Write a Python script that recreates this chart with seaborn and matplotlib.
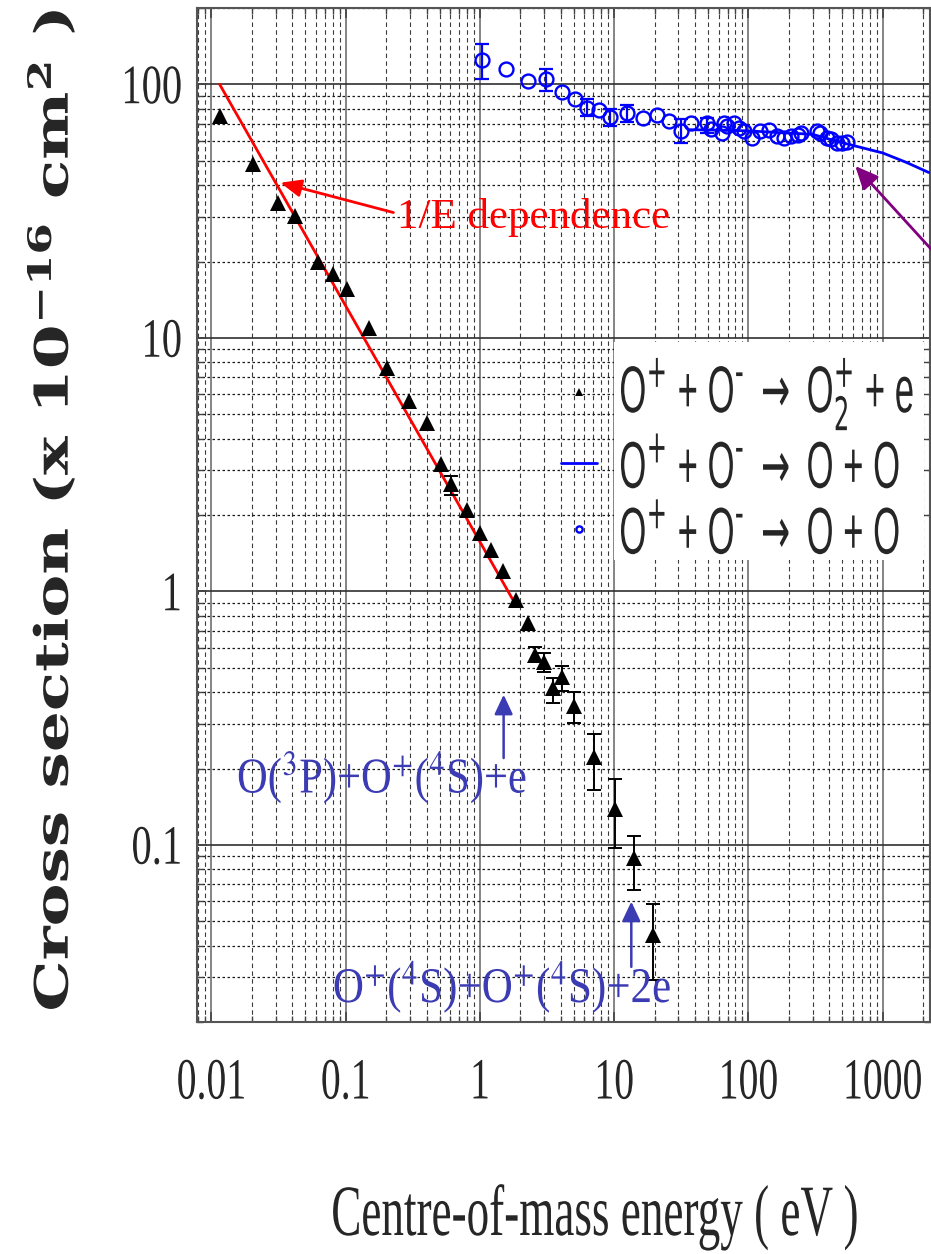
import numpy as np
import pandas as pd
import matplotlib
matplotlib.use("Agg")
import matplotlib.pyplot as plt
import seaborn as sns
from matplotlib.patheffects import AbstractPathEffect
from matplotlib.transforms import Affine2D
from matplotlib.patches import Rectangle
from matplotlib.ticker import NullFormatter, FixedLocator, LogLocator
from matplotlib.mathtext import MathTextParser

# ---------------- data ----------------
# O+ + O-  ->  O2+ + e   (black triangles)
tri_energy = [0.0115, 0.0203, 0.0313, 0.0417, 0.0617, 0.0798, 0.102, 0.150,
              0.202, 0.296, 0.400, 0.511, 0.604, 0.807, 1.00, 1.20, 1.49,
              1.85, 2.29, 2.57, 2.98, 3.48, 4.05, 4.98, 7.01, 10.1, 14.06, 19.45]
tri_sigma = [75.0, 48.3, 34.1, 30.2, 20.0, 17.9, 15.6, 10.95,
             7.61, 5.62, 4.62, 3.19, 2.66, 2.09, 1.70, 1.46, 1.20,
             0.927, 0.75, 0.562, 0.528, 0.415, 0.461, 0.354, 0.222, 0.139, 0.0885, 0.0441]
tri_err_idx = [12, 19, 20, 21, 22, 23, 24, 25, 26, 27]
tri_err_low = [2.40, 0.528, 0.479, 0.362, 0.403, 0.302, 0.165, 0.097, 0.0664, 0.0293]
tri_err_high = [2.84, 0.602, 0.571, 0.455, 0.506, 0.399, 0.274, 0.182, 0.1088, 0.0585]

# O+ + O-  ->  O + O   (open blue circles, measured)
circ_energy = [1.03, 1.55, 2.27, 3.10, 4.05, 5.12, 6.32, 7.72, 9.32, 12.5, 16.5,
               20.7, 25.6, 31.2, 37.1, 49.3, 52.2, 63.7, 65.5, 69.4, 77.8, 84.7,
               92.3, 106.4, 122.8, 143.3, 163, 185, 208, 234, 246, 323, 343, 384,
               411, 455, 496, 540]
circ_sigma = [124.7, 114.6, 103.0, 105.3, 93.6, 87.8, 80.9, 79.1, 74.6, 77.3, 73.4,
              75.5, 71.6, 65.4, 70.2, 70.6, 66.4, 64.4, 70.6, 68.4, 70.6, 67.5,
              65.4, 61.6, 65.4, 66.0, 62.5, 61.6, 62.5, 62.9, 64.4, 65.4, 64.4, 61.6,
              60.7, 58.9, 58.5, 59.3]
circ_err_idx = [0, 3, 6, 8, 9, 13, 15]
circ_err_low = [104.6, 94.1, 75.0, 68.5, 71.0, 58.6, 64.4]
circ_err_high = [143.8, 115.3, 87.3, 79.7, 82.6, 72.7, 73.9]

# O+ + O-  ->  O + O   (blue curve)
curve_energy = [36, 60, 100, 200, 300, 450, 624, 1000, 1500, 2200]
curve_sigma = [66.2, 66.0, 65.5, 64.2, 63.5, 59.7, 57.1, 53.6, 49.2, 44.9]

# 1/E dependence (red line)
fit_energy = [0.0115, 1.75]
fit_sigma = [100.0, 0.93]

x_ticks = [0.01, 0.1, 1, 10, 100, 1000]
x_tick_labels = ["0.01", "0.1", "1", "10", "100", "1000"]
y_ticks = [0.1, 1, 10, 100]
y_tick_labels = ["0.1", "1", "10", "100"]

# superscript minus drawn as a short dash when mathtext supports \text
try:
    MathTextParser("path").parse(r"$^{\text{-}}$")
    SUP_MINUS = r"$^{\text{-}}$"
except Exception:
    SUP_MINUS = r"$^{-}$"

legend_labels = ["O$^{+}$ + O" + SUP_MINUS + r" $\rightarrow$ O$_{2}^{+}$ + e",
                 "O$^{+}$ + O" + SUP_MINUS + r" $\rightarrow$ O + O",
                 "O$^{+}$ + O" + SUP_MINUS + r" $\rightarrow$ O + O"]


# ---------- helper: tall (condensed-looking) text rendering ----------
class Stretch(AbstractPathEffect):
    """Scale glyph outlines perpendicular to the reading direction."""

    def __init__(self, sy, anchor="center"):
        super().__init__()
        self.sy = sy
        self.anchor = anchor

    def draw_path(self, renderer, gc, tpath, affine, rgbFace=None):
        ext = tpath.get_extents()
        if self.anchor == "baseline":
            cy = 0.0
        elif self.anchor == "top":
            cy = ext.y1
        else:
            cy = 0.5 * (ext.y0 + ext.y1)
        t = Affine2D().translate(0, -cy).scale(1.0, self.sy).translate(0, cy)
        renderer.draw_path(gc, tpath, t + affine, rgbFace)


sns.set_style("ticks")
plt.rcParams["font.family"] = ["Liberation Serif", "DejaVu Serif"]

W, H = 931, 1254
fig = plt.figure(figsize=(W / 100, H / 100), dpi=100)
L, R, T, B = 197, 929.5, 8, 1022
ax = fig.add_axes([L / W, 1 - B / H, (R - L) / W, (B - T) / H])
ax.set_xscale("log")
ax.set_yscale("log")
ax.set_axisbelow(True)

# ---------------- marks ----------------
tri_df = pd.DataFrame({"energy": tri_energy, "sigma": tri_sigma})
circ_df = pd.DataFrame({"energy": circ_energy, "sigma": circ_sigma})
curve_df = pd.DataFrame({"energy": curve_energy, "sigma": curve_sigma})
fit_df = pd.DataFrame({"energy": fit_energy, "sigma": fit_sigma})

sns.lineplot(data=fit_df, x="energy", y="sigma", color="#ff0000", lw=2.0,
             estimator=None, sort=False, ax=ax, zorder=3)

te = np.array(tri_energy)[tri_err_idx]
ts = np.array(tri_sigma)[tri_err_idx]
ax.errorbar(te, ts, yerr=[ts - np.array(tri_err_low), np.array(tri_err_high) - ts],
            fmt="none", ecolor="black", elinewidth=1.4, capsize=5, capthick=1.4, zorder=3)
sns.lineplot(data=tri_df, x="energy", y="sigma", marker="^", linestyle="",
             color="black", markersize=12, markeredgewidth=0, estimator=None,
             sort=False, ax=ax, zorder=4, label=legend_labels[0])

sns.lineplot(data=curve_df, x="energy", y="sigma", color="#0000ff", lw=2.0,
             estimator=None, sort=False, ax=ax, zorder=3, label=legend_labels[1])

ce = np.array(circ_energy)[circ_err_idx]
cs = np.array(circ_sigma)[circ_err_idx]
ax.errorbar(ce, cs, yerr=[cs - np.array(circ_err_low), np.array(circ_err_high) - cs],
            fmt="none", ecolor="#0000ff", elinewidth=1.6, capsize=5, capthick=1.6, zorder=3)
sns.lineplot(data=circ_df, x="energy", y="sigma", marker="o", linestyle="",
             color="#0000ff", markerfacecolor="none", markeredgecolor="#0000ff",
             markersize=10, markeredgewidth=1.7, estimator=None, sort=False,
             ax=ax, zorder=4, label=legend_labels[2])

# ---------------- axes ----------------
ax.set_xlim(0.0078, 2230)
ax.set_ylim(0.02, 200)
ax.xaxis.set_major_locator(FixedLocator(x_ticks))
ax.yaxis.set_major_locator(FixedLocator(y_ticks))
ax.xaxis.set_minor_locator(LogLocator(base=10, subs=np.arange(2, 10), numticks=40))
ax.yaxis.set_minor_locator(LogLocator(base=10, subs=np.arange(2, 10), numticks=40))
ax.set_xticks(x_ticks, x_tick_labels)
ax.set_yticks(y_ticks, y_tick_labels)
ax.xaxis.set_minor_formatter(NullFormatter())
ax.yaxis.set_minor_formatter(NullFormatter())

ax.tick_params(which="both", direction="in", top=True, right=True, color="#444444")
ax.tick_params(which="major", length=7, width=1.2)
ax.tick_params(which="minor", length=4, width=1.0)
ax.tick_params(axis="x", which="major", pad=26, labelsize=28.6)
ax.tick_params(axis="y", which="major", pad=11, labelsize=29.2)
for lbl in ax.get_xticklabels():
    lbl.set_family("Liberation Serif")
    lbl.set_path_effects([Stretch(1.47, "top")])
for lbl in ax.get_yticklabels():
    lbl.set_family("Liberation Serif")
    lbl.set_path_effects([Stretch(1.37, "center")])

ax.grid(False)
ax.xaxis.grid(True, which="major", color="#707070", lw=1.2, ls="-")
ax.yaxis.grid(True, which="major", color="#303030", lw=1.2, ls="-")
ax.xaxis.grid(True, which="minor", color="#3a3a3a", lw=0.8, ls=(0, (4, 3)))
ax.yaxis.grid(True, which="minor", color="#1a1a1a", lw=0.9, ls=(0, (2, 2)))

for sp in ax.spines.values():
    sp.set_color("#555555")
    sp.set_linewidth(1.5)

# axis labels
ax.set_xlabel("Centre-of-mass energy ( eV )", fontsize=32.5, family="Liberation Serif")
ax.xaxis.label.set_va("baseline")
ax.xaxis.set_label_coords((595 - L) / (R - L), (B - 1235) / (B - T))
ax.xaxis.label.set_path_effects([Stretch(1.6, "baseline")])

ax.set_ylabel(r"Cross section (x 10$^{\mathbf{-16}}$ cm$^{\mathbf{2}}$ )", fontsize=46.4,
              family="DejaVu Serif", fontweight="bold", math_fontfamily="dejavuserif")
ax.yaxis.set_label_coords((81 - L) / (R - L), (B - 511) / (B - T))
ax.yaxis.label.set_path_effects([Stretch(0.715, "baseline")])

# ---------------- annotations ----------------
ax.annotate("", xy=(0.0326, 40.9), xytext=(0.2265, 31.2),
            arrowprops=dict(arrowstyle="-|>,head_length=0.9,head_width=0.38",
                            color="#ff0000", lw=2.0, shrinkA=0, shrinkB=0,
                            mutation_scale=14))
t_fit = ax.text(0.2399, 29.8, "1/E dependence", color="#ff0000", fontsize=31,
                family="Liberation Serif", ha="left", va="center")

ax.annotate("", xy=(624, 47.6), xytext=(2600, 20.8), annotation_clip=False,
            arrowprops=dict(arrowstyle="-|>,head_length=1.0,head_width=0.45",
                            color="#800080", lw=2.0, shrinkA=0, shrinkB=0,
                            mutation_scale=14))

thr_color = "#3b3bb3"
ax.annotate("", xy=(1.50, 0.391), xytext=(1.50, 0.220),
            arrowprops=dict(arrowstyle="-|>,head_length=0.85,head_width=0.4",
                            color=thr_color, lw=1.8, shrinkA=0, shrinkB=0,
                            mutation_scale=14))
ax.annotate("", xy=(13.4, 0.0597), xytext=(13.4, 0.033),
            arrowprops=dict(arrowstyle="-|>,head_length=0.85,head_width=0.4",
                            color=thr_color, lw=1.8, shrinkA=0, shrinkB=0,
                            mutation_scale=14))
t1 = ax.text(0.0155, 0.1836, r"O($^{3}$P)+O$^{+}$($^{4}$S)+e", color=thr_color,
             fontsize=30.6, family="Liberation Serif", math_fontfamily="stix",
             ha="left", va="center")
t1.set_path_effects([Stretch(1.18, "center")])
t2 = ax.text(0.0802, 0.02748, r"O$^{+}$($^{4}$S)+O$^{+}$($^{4}$S)+2e", color=thr_color,
             fontsize=31, family="Liberation Serif", math_fontfamily="stix",
             ha="left", va="center")
t2.set_path_effects([Stretch(1.16, "center")])

# ---------------- legend ----------------
ax.add_patch(Rectangle(((614 - L) / (R - L), (B - 560) / (B - T)),
                       (924 - 614) / (R - L), (560 - 342) / (B - T),
                       transform=ax.transAxes, facecolor="white", edgecolor="none",
                       zorder=1))
handles, labels = ax.get_legend_handles_labels()
leg = ax.legend(handles, labels, loc="center left",
                bbox_to_anchor=((561 - L) / (R - L), (B - 460) / (B - T)),
                frameon=False,
                prop={"family": "Liberation Sans", "size": 25},
                handlelength=1.04, handletextpad=0.64, labelspacing=0.9,
                markerscale=0.45, borderpad=0, borderaxespad=0)
for t in leg.get_texts():
    t.set_path_effects([Stretch(1.9, "center")])

fig.savefig("out.png", dpi=100)
